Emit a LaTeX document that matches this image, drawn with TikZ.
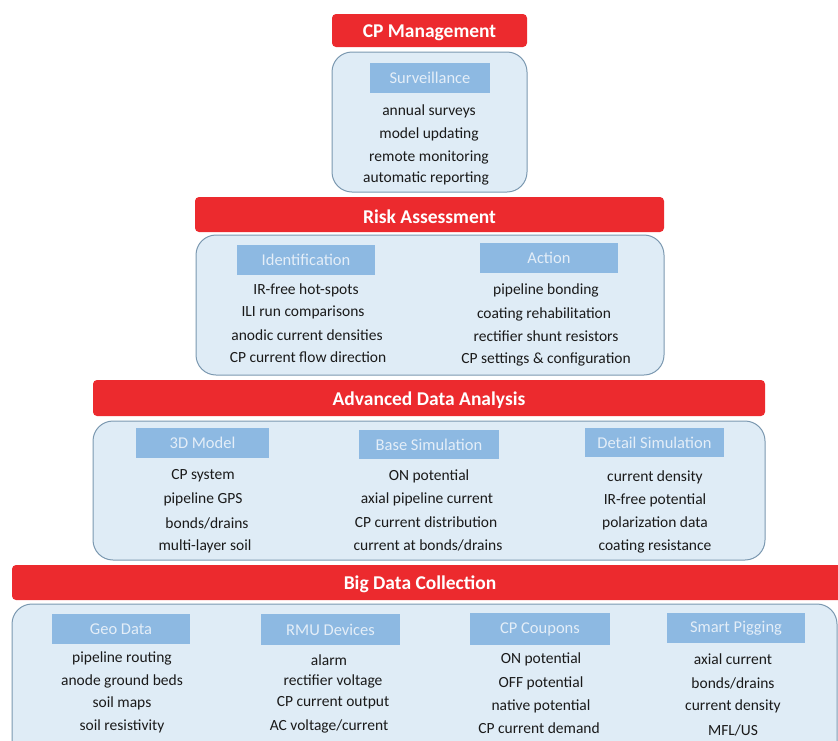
\documentclass[tikz,border=0pt]{standalone}
\usepackage{fontspec}
\setmainfont{Carlito}
\definecolor{barred}{HTML}{EC2A2E}
\definecolor{hdrblue}{HTML}{8DB9E2}
\definecolor{hdrtext}{HTML}{E4EEF8}
\definecolor{panelfill}{HTML}{DFECF6}
\definecolor{panelline}{HTML}{7B98B0}
\definecolor{itemtext}{HTML}{1A1A1A}
\tikzset{
  redbar/.style={fill=barred, draw=none, rounded corners=4pt, inner sep=0pt},
  bartext/.style={text=white, font=\fontsize{19.5}{22}\selectfont\bfseries, inner sep=0pt, yshift=-2pt},
  panel/.style={fill=panelfill, draw=panelline, line width=1pt, rounded corners=20pt, inner sep=0pt},
  hdr/.style={fill=hdrblue, draw=none, text=hdrtext, font=\fontsize{16.5}{18}\selectfont, inner sep=0pt},
  item/.style={text=itemtext, font=\fontsize{15.5}{17}\selectfont, inner sep=0pt, anchor=center, yshift=-1.5pt}
}
\begin{document}
\begin{tikzpicture}[x=1pt,y=-1pt]
\useasboundingbox (0,0) rectangle (838,740);
\clip (0,0) rectangle (838,740);
% CP Management
\node[redbar, minimum width=195pt, minimum height=33pt] (cpm) at (429.5,30.5) {};
\node[bartext] (cpmt) at (429.5,30.5) {CP Management};
\node[panel, minimum width=195pt, minimum height=140pt] (survp) at (429.5,122) {};
\node[hdr, minimum width=120pt, minimum height=30pt] (surv) at (430,78) {Surveillance};
\node[item] (s1) at (429,110) {annual surveys};
\node[item] (s2) at (429,133) {model updating};
\node[item] (s3) at (429,156) {remote monitoring};
\node[item] (s4) at (426,177) {automatic reporting};
% Risk Assessment
\node[redbar, minimum width=469pt, minimum height=35pt] (risk) at (429.5,214.5) {};
\node[bartext] (riskt) at (429.5,214.5) {Risk Assessment};
\node[panel, minimum width=468pt, minimum height=140pt] (riskp) at (430,305) {};
\node[hdr, minimum width=138pt, minimum height=30pt] (ident) at (306,260) {Identification};
\node[hdr, minimum width=138pt, minimum height=30pt] (act) at (549,258) {Action};
\node[item] (i1) at (306,289) {IR-free hot-spots};
\node[item] (i2) at (303,311) {ILI run comparisons};
\node[item] (i3) at (307,334) {anodic current densities};
\node[item] (i4) at (308,356) {CP current flow direction};
\node[item] (a1) at (546,289) {pipeline bonding};
\node[item] (a2) at (544,313) {coating rehabilitation};
\node[item] (a3) at (546,335) {rectifier shunt resistors};
\node[item] (a4) at (546,358) {CP settings \& configuration};
% Advanced Data Analysis
\node[redbar, minimum width=672pt, minimum height=36pt] (ada) at (429,398) {};
\node[bartext] (adat) at (429,398) {Advanced Data Analysis};
\node[panel, minimum width=672pt, minimum height=139pt] (adap) at (429,490.5) {};
\node[hdr, minimum width=133pt, minimum height=30pt] (m3d) at (202.5,443) {3D Model};
\node[hdr, minimum width=140pt, minimum height=29pt] (base) at (429,444.5) {Base Simulation};
\node[hdr, minimum width=139pt, minimum height=29pt] (det) at (654.5,442.5) {Detail Simulation};
\node[item] (d1) at (203,474) {CP system};
\node[item] (d2) at (203,498) {pipeline GPS};
\node[item] (d3) at (207,522) {bonds/drains};
\node[item] (d4) at (205,545) {multi-layer soil};
\node[item] (b1) at (429,475) {ON potential};
\node[item] (b2) at (427,498) {axial pipeline current};
\node[item] (b3) at (426,521) {CP current distribution};
\node[item] (b4) at (428,544) {current at bonds/drains};
\node[item] (e1) at (655,476) {current density};
\node[item] (e2) at (655,499) {IR-free potential};
\node[item] (e3) at (655,522) {polarization data};
\node[item] (e4) at (655,545) {coating resistance};
% Big Data Collection
\node[redbar, minimum width=836pt, minimum height=35pt] (big) at (430,582.5) {};
\node[bartext] (bigt) at (420,582.5) {Big Data Collection};
\node[panel, minimum width=825pt, minimum height=160pt] (bigp) at (424.5,684) {};
\node[hdr, minimum width=138pt, minimum height=30pt] (geo) at (121,629) {Geo Data};
\node[hdr, minimum width=139pt, minimum height=31pt] (rmu) at (330.5,629.5) {RMU Devices};
\node[hdr, minimum width=140pt, minimum height=32pt] (cpc) at (540,629) {CP Coupons};
\node[hdr, minimum width=138pt, minimum height=30pt] (pig) at (736,628) {Smart Pigging};
\node[item] (g1) at (122,657) {pipeline routing};
\node[item] (g2) at (122,680) {anode ground beds};
\node[item] (g3) at (122,702) {soil maps};
\node[item] (g4) at (122,725) {soil resistivity};
\node[item] (r1) at (329,659) {alarm};
\node[item] (r2) at (333,680) {rectifier voltage};
\node[item] (r3) at (333,701) {CP current output};
\node[item] (r4) at (329,725) {AC voltage/current};
\node[item] (c1) at (541,658) {ON potential};
\node[item] (c2) at (541,682) {OFF potential};
\node[item] (c3) at (541,705) {native potential};
\node[item] (c4) at (539,727) {CP current demand};
\node[item] (p1) at (733,658) {axial current};
\node[item] (p2) at (733,682) {bonds/drains};
\node[item] (p3) at (733,705) {current density};
\node[item] (p4) at (733,729) {MFL/US};
\end{tikzpicture}
\end{document}
